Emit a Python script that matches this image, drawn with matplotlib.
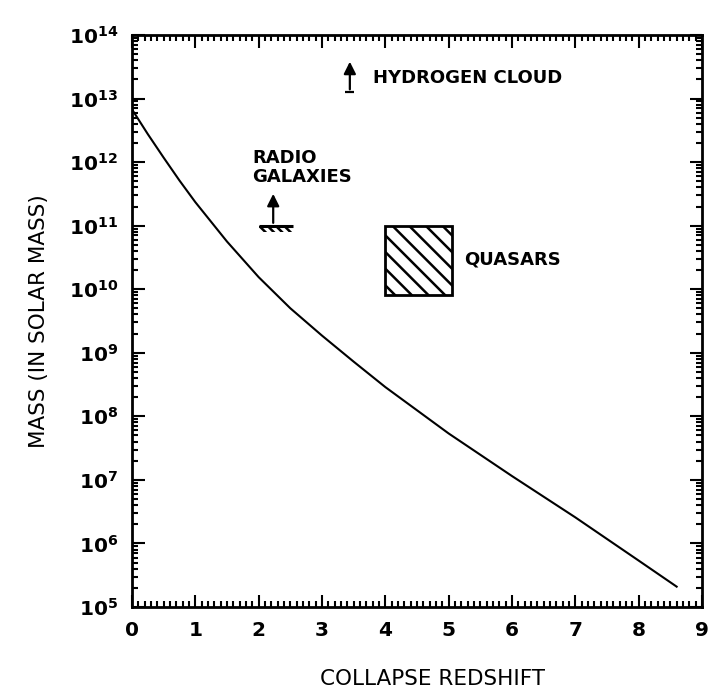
import matplotlib
matplotlib.use("Agg")
import matplotlib.pyplot as plt
from matplotlib.ticker import MultipleLocator, LogLocator, FixedLocator, NullFormatter
from matplotlib.patches import Rectangle

# collapse redshift vs mass curve
redshift = [0.0, 0.25, 0.5, 0.75, 1.0, 1.5, 2.0, 2.5, 3.0, 3.5, 4.0, 5.0, 6.0, 7.0, 8.0, 8.6]
log_mass = [12.83, 12.44, 12.07, 11.71, 11.37, 10.75, 10.19, 9.70, 9.27, 8.86, 8.46, 7.73, 7.06, 6.41, 5.73, 5.32]
mass = [10 ** v for v in log_mass]

# lower limits
hydrogen_z = 3.44
hydrogen_mass = [1.26e13, 4.2e13]
radio_z = 2.23
radio_z_range = [2.0, 2.55]
radio_mass = [1.0e11, 3.5e11]

# quasar box
quasar_z = [4.0, 5.05]
quasar_mass = [8.0e9, 1.0e11]

plt.rcParams['font.family'] = ['DejaVu Sans']
plt.rcParams['mathtext.default'] = 'regular'
plt.rcParams['hatch.linewidth'] = 1.8

fig = plt.figure(figsize=(7.08, 6.91), dpi=100)
ax = fig.add_axes([0.1864, 0.1216, 0.8051, 0.8278])

ax.plot(redshift, mass, color='black', lw=1.5)

# hydrogen cloud arrow with bar
ax.annotate('', xy=(hydrogen_z, hydrogen_mass[1]), xytext=(hydrogen_z, hydrogen_mass[0]),
            arrowprops=dict(arrowstyle='-|>', color='black', lw=1.6, mutation_scale=18))
ax.hlines(hydrogen_mass[0], hydrogen_z - 0.07, hydrogen_z + 0.07, color='black', lw=1.6)
ax.text(hydrogen_z + 0.36, 2.1e13, 'HYDROGEN CLOUD', fontsize=13, fontweight='bold',
        va='center', ha='left')

# radio galaxies arrow with hatched ground
ax.annotate('', xy=(radio_z, radio_mass[1]), xytext=(radio_z, radio_mass[0]),
            arrowprops=dict(arrowstyle='-|>', color='black', lw=1.6, mutation_scale=18))
ax.hlines(radio_mass[0], radio_z_range[0], radio_z_range[1], color='black', lw=2.2)
ax.fill_between(radio_z_range, [radio_mass[0] * 0.78] * 2, [radio_mass[0]] * 2,
                facecolor='none', edgecolor='black', hatch='\\\\\\\\', lw=0)
ax.text(1.9, 8.3e11, 'RADIO\nGALAXIES', fontsize=13, fontweight='bold',
        va='center', ha='left', linespacing=1.1)

# quasars box
ax.add_patch(Rectangle((quasar_z[0], quasar_mass[0]), quasar_z[1] - quasar_z[0],
                       quasar_mass[1] - quasar_mass[0], facecolor='white',
                       edgecolor='black', lw=2, hatch='\\\\'))
ax.text(5.25, 2.95e10, 'QUASARS', fontsize=13, fontweight='bold', va='center', ha='left')

ax.set_xlim(0, 9)
ax.set_yscale('log')
ax.set_ylim(1e5, 1e14)

ax.xaxis.set_major_locator(MultipleLocator(1))
ax.xaxis.set_minor_locator(MultipleLocator(0.1))
ax.yaxis.set_major_locator(FixedLocator([10.0 ** k for k in range(5, 15)]))
ax.yaxis.set_minor_locator(LogLocator(base=10, subs=range(2, 10), numticks=20))
ax.yaxis.set_minor_formatter(NullFormatter())
ax.set_yticklabels(['$10^{%d}$' % k for k in range(5, 15)])

ax.tick_params(which='both', direction='in', top=True, right=True, width=1.5)
ax.tick_params(which='major', length=9, labelsize=14.5, pad=10)
ax.tick_params(which='minor', length=4.5)
for lab in ax.get_xticklabels() + ax.get_yticklabels():
    lab.set_fontweight('bold')
for sp in ax.spines.values():
    sp.set_linewidth(2)

ax.set_xlabel('COLLAPSE REDSHIFT', fontsize=15.5)
ax.xaxis.set_label_coords(0.528, -0.108)
ax.set_ylabel('MASS (IN SOLAR MASS)', fontsize=15.5, labelpad=14)

fig.savefig('out.png', dpi=100)
